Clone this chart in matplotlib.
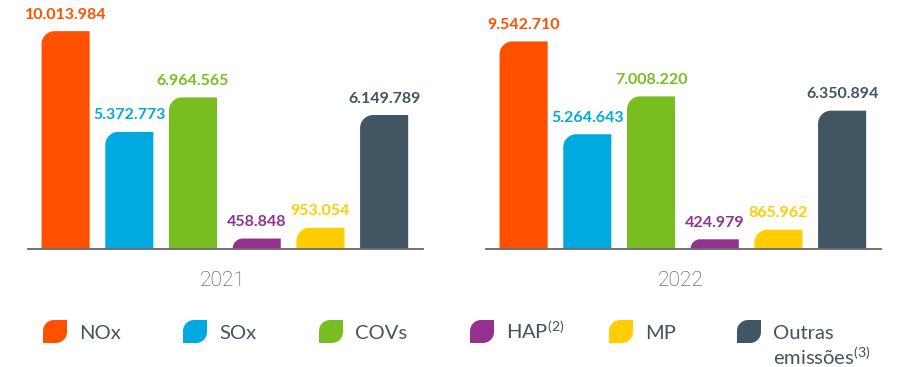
import numpy as np
import matplotlib.pyplot as plt
from matplotlib.path import Path
from matplotlib.patches import PathPatch

plt.rcParams['font.family'] = ['Lato', 'DejaVu Sans']
plt.rcParams['mathtext.fontset'] = 'custom'
plt.rcParams['mathtext.rm'] = 'Lato'
plt.rcParams['mathtext.default'] = 'regular'

# emissões atmosféricas por tipo (t)
categorias = ['NOx', 'SOx', 'COVs', 'HAP', 'MP', 'Outras emissões']
legenda = ['NOx', 'SOx', 'COVs', 'HAP$^{(2)}$', 'MP', ['Outras', 'emissões$^{(3)}$']]
anos = ['2021', '2022']
valores_2021 = [10013984, 5372773, 6964565, 458848, 953054, 6149789]
valores_2022 = [9542710, 5264643, 7008220, 424979, 865962, 6350894]
cores = ['#FF5000', '#00A9E0', '#78BE20', '#93328E', '#FFCD00', '#415563']

cor_texto = '#44535f'


def fmt(v):
    return f'{v:,}'.replace(',', '.')


def barra(ax, x, largura, altura, cor, raio_px=13):
    # barra com só o canto superior esquerdo arredondado
    bb = ax.get_window_extent()
    x0, x1 = ax.get_xlim()
    y0, y1 = ax.get_ylim()
    px_x = bb.width / (x1 - x0)
    px_y = bb.height / (y1 - y0)
    r = min(raio_px, altura * px_y)
    rx = r / px_x
    ry = r / px_y
    k = 0.5523
    xl = x - largura / 2
    xr = x + largura / 2
    verts = [(xl, 0), (xl, altura - ry), (xl, altura - ry + k * ry),
             (xl + rx - k * rx, altura), (xl + rx, altura),
             (xr, altura), (xr, 0), (xl, 0)]
    codes = [Path.MOVETO, Path.LINETO, Path.CURVE4, Path.CURVE4, Path.CURVE4,
             Path.LINETO, Path.LINETO, Path.CLOSEPOLY]
    ax.add_patch(PathPatch(Path(verts, codes), facecolor=cor, edgecolor='none'))


def folha(ax, x0, y0, w, h, cor, r=11):
    # marcador da legenda: cantos sup. esquerdo e inf. direito arredondados
    k = 0.5523
    verts = [(x0, y0 + h), (x0, y0 + r), (x0, y0 + r - k * r), (x0 + r - k * r, y0), (x0 + r, y0),
             (x0 + w, y0), (x0 + w, y0 + h - r), (x0 + w, y0 + h - r + k * r),
             (x0 + w - r + k * r, y0 + h), (x0 + w - r, y0 + h), (x0, y0 + h)]
    codes = [Path.MOVETO, Path.LINETO, Path.CURVE4, Path.CURVE4, Path.CURVE4,
             Path.LINETO, Path.LINETO, Path.CURVE4, Path.CURVE4, Path.CURVE4, Path.CLOSEPOLY]
    ax.add_patch(PathPatch(Path(verts, codes), facecolor=cor, edgecolor='none'))


fig = plt.figure(figsize=(9.08, 3.67), dpi=100)

base = (367 - 248.5) / 367
ax1 = fig.add_axes([28 / 908, base, 395 / 908, 1 - base])
ax2 = fig.add_axes([486 / 908, base, 395 / 908, 1 - base])

x = np.arange(len(categorias))
for ax, ano, valores in [(ax1, anos[0], valores_2021), (ax2, anos[1], valores_2022)]:
    ax.set_xlim(-0.59, 5.61)
    ax.set_ylim(0, 11.45e6)
    for xi, v, c in zip(x, valores, cores):
        barra(ax, xi, 0.755, v, c)
        ax.annotate(fmt(v), (xi, v), xytext=(0, 12.5), textcoords='offset pixels',
                    ha='center', va='baseline', fontsize=11.5, fontweight='bold',
                    color=c, annotation_clip=False)
    for s in ['top', 'right', 'left']:
        ax.spines[s].set_visible(False)
    ax.spines['bottom'].set_color('#666666')
    ax.spines['bottom'].set_linewidth(1.3)
    ax.set_xticks([])
    ax.set_yticks([])
    ax.annotate(ano, (0.5, 0), xycoords='axes fraction', xytext=(-3, -32),
                textcoords='offset pixels', ha='center', va='center',
                fontsize=15, family=['Roboto', 'Lato'], fontweight='light',
                color='#4a4a4a')

# legenda desenhada em coordenadas de pixel
lg = fig.add_axes([0, 0, 1, 1])
lg.set_xlim(0, 908)
lg.set_ylim(367, 0)
lg.axis('off')
pos_legenda = [43, 183, 319, 470, 609, 737]
for px, c, txt in zip(pos_legenda, cores, legenda):
    folha(lg, px, 320, 24, 23, c)
    linhas = txt if isinstance(txt, list) else [txt]
    for i, linha in enumerate(linhas):
        lg.text(px + 36, 339 + 26 * i, linha, ha='left', va='baseline',
                fontsize=14.5, color=cor_texto)

fig.savefig('out.png', dpi=100)
